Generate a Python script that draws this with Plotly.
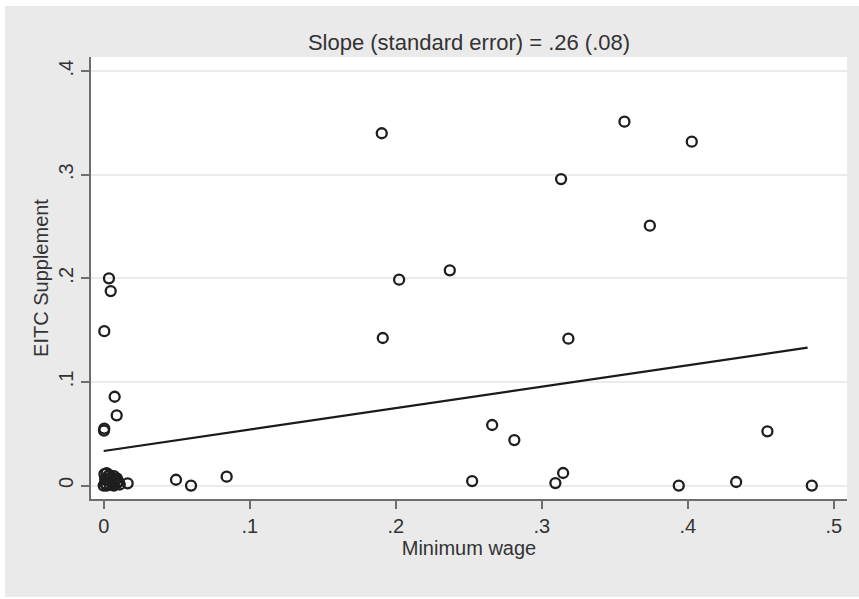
import plotly.graph_objects as go

# Scatter data: Minimum wage (x) vs EITC Supplement (y)
min_wage = [
    0.1904, 0.3566, 0.4027, 0.3132, 0.3740, 0.2370, 0.2023, 0.1911, 0.3182,
    0.2660, 0.2812, 0.4545, 0.2523, 0.3093, 0.3146, 0.3938, 0.4331, 0.4849,
    0.0495, 0.0598, 0.0842, 0.0164,
    0.0036, 0.0048, 0.0004, 0.0075, 0.0089, 0.0002, 0.0004,
    0.0000, 0.0010, 0.0020, 0.0030, 0.0040, 0.0050, 0.0060, 0.0070, 0.0080,
    0.0090, 0.0100, 0.0110, 0.0005, 0.0020, 0.0040, 0.0070, 0.0090, 0.0010,
    0.0060, 0.0030,
]
eitc_supplement = [
    0.3400, 0.3512, 0.3319, 0.2958, 0.2508, 0.2077, 0.1987, 0.1424, 0.1417,
    0.0584, 0.0439, 0.0523, 0.0043, 0.0024, 0.0121, 0.0000, 0.0034, 0.0000,
    0.0056, 0.0000, 0.0085, 0.0021,
    0.2000, 0.1877, 0.1490, 0.0857, 0.0678, 0.0529, 0.0550,
    0.0000, 0.0020, 0.0000, 0.0050, 0.0010, 0.0080, 0.0030, 0.0000, 0.0060,
    0.0020, 0.0040, 0.0010, 0.0110, 0.0120, 0.0100, 0.0090, 0.0070, 0.0060,
    0.0010, 0.0090,
]

# Fitted line
fit_intercept = 0.0333
fit_slope = 0.207
fit_x_range = [0.0, 0.482]

title_text = "Slope (standard error) = .26 (.08)"
x_label = "Minimum wage"
y_label = "EITC Supplement"
x_tickvals = [0, 0.1, 0.2, 0.3, 0.4, 0.5]
x_ticktext = ["0", ".1", ".2", ".3", ".4", ".5"]
y_tickvals = [0, 0.1, 0.2, 0.3, 0.4]
y_ticktext = ["0", ".1", ".2", ".3", ".4"]

fit_y = [fit_intercept + fit_slope * v for v in fit_x_range]

BG = "#EAEAEB"
AX = "#6E6E6E"
TXT = "#333333"
FONT = "Liberation Sans, Arial, sans-serif"

fig = go.Figure()
fig.add_trace(go.Scatter(
    x=min_wage, y=eitc_supplement, mode="markers",
    marker=dict(symbol="circle-open", size=10, color="#1e1e1e",
                line=dict(width=2.3, color="#1e1e1e")),
    showlegend=False, hoverinfo="skip",
))
fig.add_trace(go.Scatter(
    x=fit_x_range, y=fit_y, mode="lines",
    line=dict(color="#1a1a1a", width=2.2),
    showlegend=False, hoverinfo="skip",
))

fig.update_layout(
    width=859, height=599,
    margin=dict(l=91, r=12, t=57, b=100),
    paper_bgcolor="white",
    plot_bgcolor="white",
    font=dict(family=FONT, color=TXT),
    title=dict(text=title_text, x=0.5, xref="paper", xanchor="center",
               y=1 - 42 / 599, yref="container", yanchor="middle",
               font=dict(size=22, color=TXT, family=FONT)),
    shapes=[
        dict(type="rect", xref="paper", yref="paper", layer="below",
             x0=-0.1138, x1=1.03, y0=-0.2217, y1=1.1154,
             fillcolor=BG, line=dict(width=0)),
        dict(type="rect", xref="paper", yref="paper", layer="below",
             x0=0, x1=1, y0=0, y1=1,
             fillcolor="white", line=dict(width=0)),
    ],
    xaxis=dict(
        range=[-0.0087, 0.509],
        tickvals=x_tickvals, ticktext=x_ticktext,
        showgrid=False, zeroline=False,
        showline=True, linecolor=AX, linewidth=1.5,
        ticks="outside", ticklen=8, tickwidth=1.5, tickcolor=AX,
        tickfont=dict(size=20, color=TXT),
        title=dict(text=x_label, font=dict(size=20, color=TXT), standoff=0),
    ),
    yaxis=dict(
        range=[-0.013, 0.4136],
        tickvals=y_tickvals, ticktext=y_ticktext, tickangle=-90,
        showgrid=True, gridcolor="#EBEBEB", gridwidth=2,
        zeroline=False,
        showline=True, linecolor=AX, linewidth=1.5,
        ticks="outside", ticklen=8, tickwidth=1.5, tickcolor=AX,
        tickfont=dict(size=20, color=TXT),
        title=dict(text=y_label, font=dict(size=20, color=TXT), standoff=1),
    ),
)

fig.write_html("out.html")
